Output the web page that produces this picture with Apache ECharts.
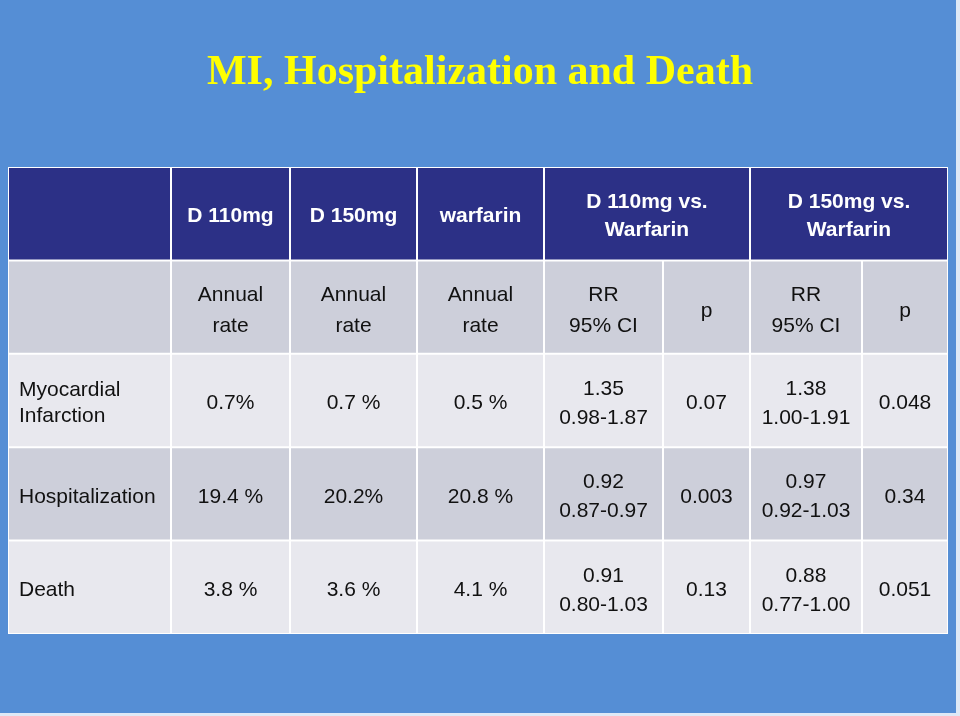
<!DOCTYPE html>
<html>
<head>
<meta charset="utf-8">
<script src="https://cdn.jsdelivr.net/npm/echarts@6/dist/echarts.min.js"></script>
<style>
  html, body { margin: 0; padding: 0; background: #e4ecf7; }
  #chart { width: 960px; height: 716px; }
</style>
</head>
<body>
<div id="chart"></div>
<script>
// ---- data ----
const titleText = 'MI, Hospitalization and Death';
const groupHeaders = ['', 'D 110mg', 'D 150mg', 'warfarin', 'D 110mg vs.\nWarfarin', 'D 150mg vs.\nWarfarin'];
const subHeaders = ['', 'Annual\nrate', 'Annual\nrate', 'Annual\nrate', 'RR\n95% CI', 'p', 'RR\n95% CI', 'p'];
const outcomes = ['Myocardial\nInfarction', 'Hospitalization', 'Death'];
const rateD110 = ['0.7%', '19.4 %', '3.8 %'];
const rateD150 = ['0.7 %', '20.2%', '3.6 %'];
const rateWarfarin = ['0.5 %', '20.8 %', '4.1 %'];
const rrD110 = ['1.35', '0.92', '0.91'];
const ciD110 = ['0.98-1.87', '0.87-0.97', '0.80-1.03'];
const pD110 = ['0.07', '0.003', '0.13'];
const rrD150 = ['1.38', '0.97', '0.88'];
const ciD150 = ['1.00-1.91', '0.92-1.03', '0.77-1.00'];
const pD150 = ['0.048', '0.34', '0.051'];
const rowKeys = ['header', 'sub', 'mi', 'hosp', 'death'];

// ---- layout (not data) ----
const colEdges = [0, 163, 282, 409, 536, 655, 742, 854, 940];
const groupSpans = [[0, 1], [1, 2], [2, 3], [3, 4], [4, 6], [6, 8]];
const rowFill = ['#2c3086', '#cdcfda', '#e8e8ee', '#cdcfda', '#e8e8ee'];

// ---- build cells ----
const cells = [];
groupHeaders.forEach((t, i) => cells.push({ c0: groupSpans[i][0], c1: groupSpans[i][1], row: 0, text: t, kind: 'head' }));
subHeaders.forEach((t, i) => cells.push({ c0: i, c1: i + 1, row: 1, text: t, kind: 'sub' }));
outcomes.forEach((o, k) => {
  const row = 2 + k;
  const vals = [o, rateD110[k], rateD150[k], rateWarfarin[k],
    rrD110[k] + '\n' + ciD110[k], pD110[k], rrD150[k] + '\n' + ciD150[k], pD150[k]];
  vals.forEach((t, i) => cells.push({ c0: i, c1: i + 1, row, text: t, kind: i === 0 ? 'label' : 'body' }));
});

const seriesData = cells.map(c => [colEdges[c.c0], colEdges[c.c1], c.row]);

function renderItem(params, api) {
  const c = cells[params.dataIndex];
  const x0 = api.value(0), x1 = api.value(1), r = api.value(2);
  const p0 = api.coord([x0, r]);
  const p1 = api.coord([x1, r]);
  const band = api.size([0, 1])[1];
  const left = p0[0] + 1, top = p0[1] - band / 2 + 1;
  const w = p1[0] - p0[0] - 2, h = band - 2;
  let style;
  if (c.kind === 'head') {
    style = { fill: '#ffffff', fontWeight: 'bold', lineHeight: 28 };
  } else if (c.kind === 'sub') {
    style = { fill: '#111111', fontWeight: 'normal', lineHeight: 31 };
  } else if (c.kind === 'label') {
    style = { fill: '#111111', fontWeight: 'normal', lineHeight: 26 };
  } else {
    style = { fill: '#111111', fontWeight: 'normal', lineHeight: 29 };
  }
  const isLabel = c.kind === 'label';
  const dy = c.kind === 'sub' ? 4 : 3;
  return {
    type: 'group',
    children: [
      { type: 'rect', shape: { x: left, y: top, width: w, height: h }, style: { fill: rowFill[c.row] } },
      {
        type: 'text',
        style: Object.assign({
          text: c.text,
          x: isLabel ? left + 10 : left + w / 2,
          y: top + h / 2 + dy,
          align: isLabel ? 'left' : 'center',
          verticalAlign: 'middle',
          fontSize: 21,
          fontFamily: '"Liberation Sans", Arial, sans-serif'
        }, style)
      }
    ]
  };
}

const chart = echarts.init(document.getElementById('chart'));
chart.setOption({
  backgroundColor: '#558ed5',
  animation: false,
  title: {
    text: titleText,
    left: 'center',
    top: 47,
    textStyle: { color: '#ffff00', fontFamily: '"Liberation Serif", "Times New Roman", serif', fontWeight: 'bold', fontSize: 42 }
  },
  grid: { left: 8, top: 167, width: 940, height: 467, show: true, backgroundColor: '#ffffff', borderWidth: 0 },
  xAxis: { type: 'value', min: 0, max: 940, show: false },
  yAxis: { type: 'category', data: rowKeys, inverse: true, show: false },
  graphic: [
    { type: 'rect', left: 956, top: 0, shape: { width: 4, height: 716 }, style: { fill: '#dfe9f6' }, silent: true },
    { type: 'rect', left: 0, top: 713, shape: { width: 960, height: 3 }, style: { fill: '#dfe9f6' }, silent: true }
  ],
  series: [{
    type: 'custom',
    renderItem: renderItem,
    data: seriesData,
    encode: { x: [0, 1], y: 2 },
    clip: false
  }]
});
</script>
</body>
</html>
